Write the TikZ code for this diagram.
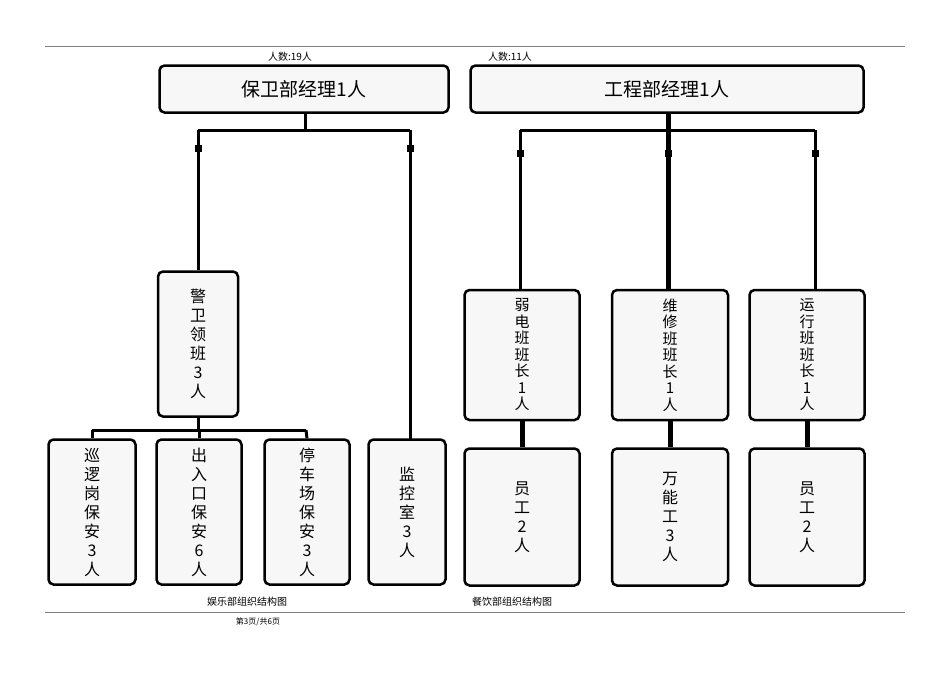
\documentclass[tikz,border=0pt]{standalone}
\usepackage{fontspec}
\setmainfont{Noto Sans CJK SC}
\begin{document}
\begin{tikzpicture}[x=1pt,y=-1pt,
  box/.style={draw=black,line width=2.5pt,rounded corners=5pt,fill=gray!6,inner sep=0pt,font=\fontsize{16}{19}\selectfont,align=center},
  tight/.style={font=\fontsize{15}{16.5}\selectfont},
  conn/.style={line width=3pt},
  tick/.style={line width=7pt},
  small/.style={font=\fontsize{10}{11}\selectfont}]
\useasboundingbox (0,0) rectangle (950,672);
\draw[gray,line width=1pt] (45,46) -- (905,46);
\draw[gray,line width=1pt] (45,612) -- (905,612);
\node[small] (l1) at (290,57) {人数:19人};
\node[small] (l2) at (510,57) {人数:11人};
\node[small] (c1) at (247,602) {娱乐部组织结构图};
\node[small] (c2) at (512,602) {餐饮部组织结构图};
\node[font=\fontsize{8}{9}\selectfont] (pg) at (258,622) {第3页/共6页};
% left
\node[box,minimum width=289pt,minimum height=47pt,font=\fontsize{19}{22}\selectfont] (bw) at (304,89) {保卫部经理1人};
\node[box,minimum width=80pt,minimum height=145pt] (jw) at (198,344) {警\\卫\\领\\班\\3\\人};
\node[box,minimum width=87pt,minimum height=145pt] (xl) at (92,512) {巡\\逻\\岗\\保\\安\\3\\人};
\node[box,minimum width=85pt,minimum height=145pt] (cr) at (199,512) {出\\入\\口\\保\\安\\6\\人};
\node[box,minimum width=85pt,minimum height=145pt] (tc) at (307,512) {停\\车\\场\\保\\安\\3\\人};
\node[box,minimum width=77pt,minimum height=145pt] (jk) at (407,512) {监\\控\\室\\3\\人};
\coordinate (ls) at (305,130);
\draw[conn] (bw.south -| ls) -- (ls);
\draw[conn] (198,130) -- (410,130);
\draw[conn] (198,130) -- (jw.north);
\draw[conn] (410,130) -- (410,440);
\draw[tick] (198,145) -- (198,152);
\draw[tick] (410,145) -- (410,152);
\draw[conn] (jw.south) -- (198,430);
\draw[conn] (92,430) -- (306,430);
\draw[conn] (92,430) -- (xl.north);
\draw[conn] (199,430) -- (cr.north);
\draw[conn] (306,430) -- (tc.north);
% right
\node[box,minimum width=393pt,minimum height=47pt,font=\fontsize{19}{22}\selectfont] (gc) at (667,89) {工程部经理1人};
\node[box,tight,minimum width=115pt,minimum height=130pt] (rd) at (522,355) {弱\\电\\班\\班\\长\\1\\人};
\node[box,tight,minimum width=116pt,minimum height=130pt] (wx) at (670,355) {维\\修\\班\\班\\长\\1\\人};
\node[box,tight,minimum width=115pt,minimum height=130pt] (yx) at (807,355) {运\\行\\班\\班\\长\\1\\人};
\node[box,minimum width=115pt,minimum height=137pt] (y1) at (522,517) {员\\工\\2\\人};
\node[box,minimum width=116pt,minimum height=137pt] (wn) at (670,517) {万\\能\\工\\3\\人};
\node[box,minimum width=115pt,minimum height=137pt] (y2) at (807,517) {员\\工\\2\\人};
\draw[conn,line width=5pt] (668,113) -- (668,130);
\draw[conn] (520,130) -- (815,130);
\draw[conn] (520,130) -- (520,290);
\draw[conn,line width=5pt] (668,130) -- (668,290);
\draw[conn] (815,130) -- (815,290);
\draw[tick] (520,150) -- (520,157);
\draw[tick] (668,150) -- (668,157);
\draw[tick] (815,150) -- (815,157);
\draw[conn,line width=5pt] (rd.south) -- (y1.north);
\draw[conn,line width=5pt] (wx.south) -- (wn.north);
\draw[conn,line width=5pt] (yx.south) -- (y2.north);
\end{tikzpicture}
\end{document}
